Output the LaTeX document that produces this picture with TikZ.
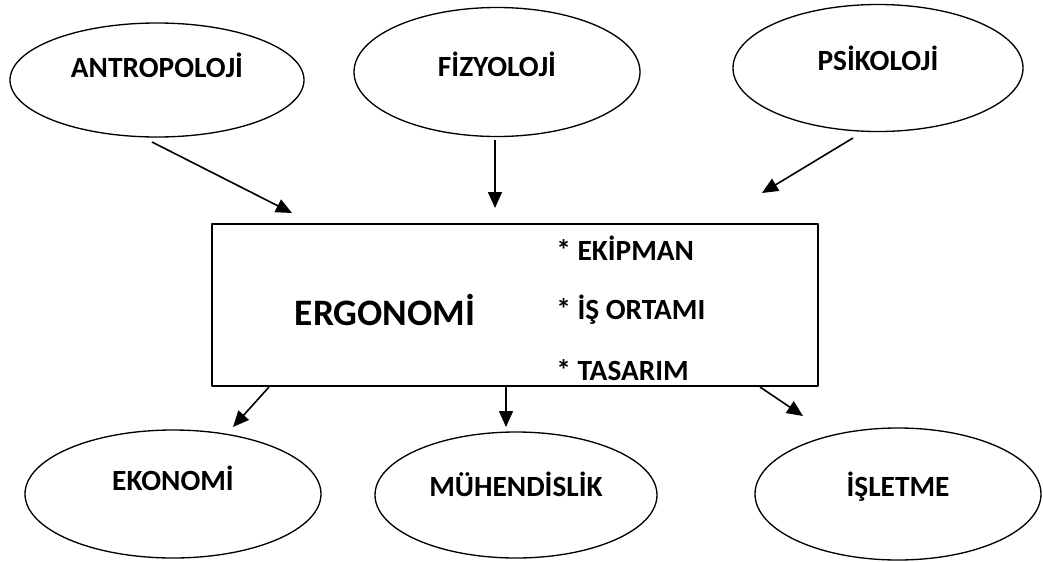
\documentclass[tikz,border=0pt]{standalone}
\usepackage{fontspec}
\setmainfont{Carlito}
\usetikzlibrary{arrows.meta,shapes.geometric}

\begin{document}
\begin{tikzpicture}[x=0.75pt, y=-0.75pt, line join=round, >=Latex]
\tikzset{field/.style n args={2}{draw, ellipse, line width=1pt, inner sep=0pt,
    minimum width=#1, minimum height=#2, text height=0.65em, text depth=0pt,
    font=\fontsize{22}{26}\selectfont\bfseries},
  link/.style={-{Triangle[length=12pt,width=10.5pt]}, line width=1.2pt},
  item/.style={anchor=west, inner sep=0pt, font=\fontsize{22}{26}\selectfont\bfseries}}
\useasboundingbox (0,0) rectangle (1043,561);

% fields (px)
\node[field={220.5pt}{85.5pt}, text depth=11pt] (antro) at (157,80)  {ANTROPOLOJİ};
\node[field={214.5pt}{96.75pt}] (fizyo) at (497,72)  {FİZYOLOJİ};
\node[field={217.5pt}{95.25pt}, text depth=3pt] (psiko) at (878,68)  {PSİKOLOJİ};
\node[field={222pt}{96pt}, text depth=12pt] (ekono) at (173,494) {EKONOMİ};
\node[field={211.5pt}{94.5pt}, text depth=4pt] (muhen) at (516,495) {MÜHENDİSLİK};
\node[field={214.5pt}{99pt}, text depth=3pt] (islet) at (898,494) {İŞLETME};

% centre box
\node[draw, line width=1.5pt, minimum width=454.5pt, minimum height=121.5pt] (ergo) at (515,305) {};
\node[inner sep=0pt, font=\fontsize{28}{32}\selectfont\bfseries] (title) at (385,310) {ERGONOMİ};
\node[item] (item1) at (556,248) {* EKİPMAN};
\node[item] (item2) at (556,310) {* İŞ ORTAMI};
\node[item] (item3) at (556,370) {* TASARIM};

% arrow ends
\coordinate (a1) at (152,142); \coordinate (b1) at (292,213);
\coordinate (a2) at (495,140); \coordinate (b2) at (495,208);
\coordinate (a3) at (853,138); \coordinate (b3) at (762,193);
\coordinate (a4) at (269,387); \coordinate (b4) at (233,427);
\coordinate (a5) at (506,387); \coordinate (b5) at (506,427);
\coordinate (a6) at (760,387); \coordinate (b6) at (803,416);

\foreach \i in {1,...,6}{
  \draw[link] (a\i) -- (b\i);
}
\end{tikzpicture}
\end{document}
